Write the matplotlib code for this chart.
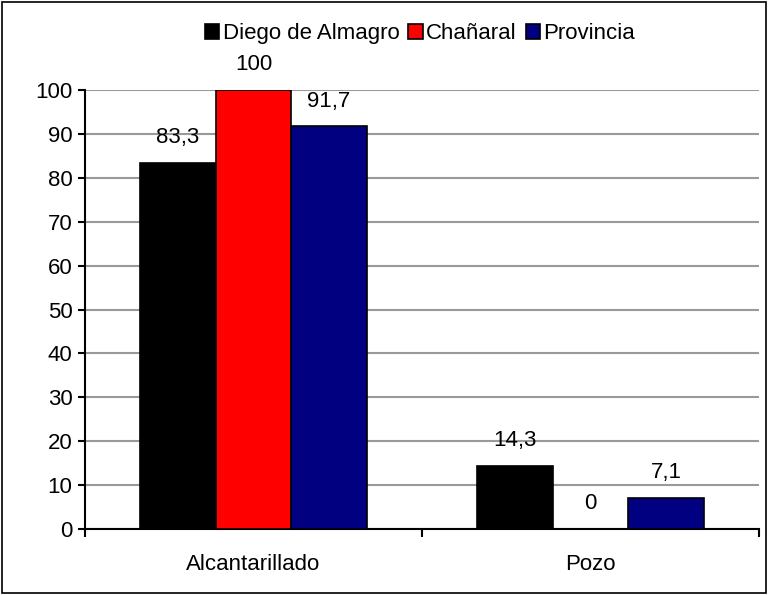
import matplotlib.pyplot as plt
from matplotlib.patches import Rectangle
import numpy as np

# Data
categories = ["Alcantarillado", "Pozo"]
series_names = ["Diego de Almagro", "Chañaral", "Provincia"]
diego = [83.3, 14.3]
chanaral = [100, 0]
provincia = [91.7, 7.1]
colors = ["#000000", "#FF0000", "#000080"]

plt.rcParams['font.family'] = ['Liberation Sans', 'DejaVu Sans']
plt.rcParams['font.size'] = 16

fig = plt.figure(figsize=(7.68, 5.95), dpi=100)
ax = fig.add_axes([85 / 768, 66 / 595, 674 / 768, 439 / 595])

x = np.arange(len(categories))
width = 0.224
values = [diego, chanaral, provincia]
for i, (name, vals, c) in enumerate(zip(series_names, values, colors)):
    pos = x + (i - 1) * width
    bars = ax.bar(pos, vals, width, color=c, edgecolor="black", linewidth=1.2,
                  label=name, zorder=3)
    for b, v in zip(bars, vals):
        lbl = f"{v:g}".replace(".", ",")
        ax.text(b.get_x() + b.get_width() / 2, v + 3.4, lbl,
                ha="center", va="bottom", fontsize=16)

ax.set_xlim(-0.5, 1.5)
ax.set_ylim(0, 100)
ax.set_yticks(range(0, 101, 10))
ax.yaxis.grid(True, color="#999999", linewidth=1.5, zorder=0)
ax.set_axisbelow(True)

# ticks at category boundaries, labels at centres
ax.set_xticks([-0.5, 0.5, 1.5])
ax.set_xticklabels([])
ax.set_xticks(x, minor=True)
ax.set_xticklabels(categories, minor=True)
ax.tick_params(axis="x", which="minor", length=0, pad=18)
ax.tick_params(axis="x", which="major", length=6, width=1.5, direction="out")
ax.tick_params(axis="y", length=5, width=1.5, direction="out", pad=4)

for s in ["top", "right"]:
    ax.spines[s].set_visible(False)
ax.spines["left"].set_linewidth(1.5)
ax.spines["bottom"].set_linewidth(1.5)

fig.legend(loc="center", bbox_to_anchor=(0.547, 0.943), ncol=3, frameon=False,
           handlelength=0.65, handleheight=0.65, handletextpad=0.15,
           columnspacing=0.4, fontsize=16)

fig.patches.append(Rectangle((0.003, 0.003), 0.994, 0.994, transform=fig.transFigure,
                             fill=False, edgecolor="black", linewidth=1.2))

fig.savefig("out.png", dpi=100)
